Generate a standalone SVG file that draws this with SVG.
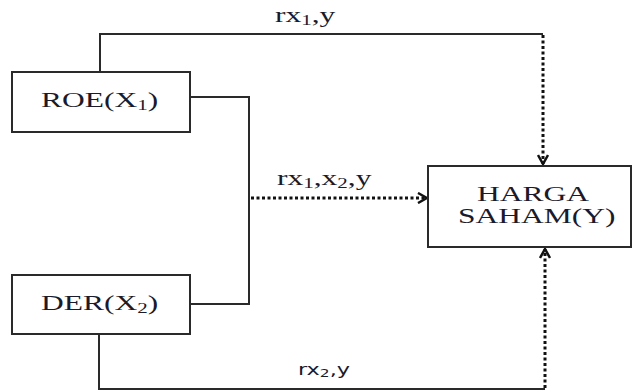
<svg xmlns="http://www.w3.org/2000/svg" width="633" height="392" viewBox="0 0 633 392">
<defs>
<style>
.box{fill:#fff;stroke:#2a2a2a;stroke-width:2}
.solid{fill:none;stroke:#2a2a2a;stroke-width:2}
.dot{fill:none;stroke:#111;stroke-width:3;stroke-dasharray:3 2.5}
.t{font-family:"Liberation Serif","Times New Roman",serif;fill:#1a1a2a}
.s{font-family:"DejaVu Sans","Liberation Sans",sans-serif;fill:#1a1a2a}
</style>
<marker id="chev" viewBox="0 0 12 12" refX="11" refY="6" markerWidth="12" markerHeight="12" markerUnits="userSpaceOnUse" orient="auto">
<path d="M2,1 L11,6 L2,11" fill="none" stroke="#111" stroke-width="2.5"/>
</marker>
</defs>
<g id="connectors">
<polyline class="solid" points="100,72 100,34 543,34"/>
<line class="dot" x1="543" y1="35" x2="543" y2="164" marker-end="url(#chev)"/>
<polyline class="solid" points="190,97 249,97 249,304 190,304"/>
<line class="dot" x1="251" y1="198" x2="427" y2="198" marker-end="url(#chev)"/>
<polyline class="solid" points="99,334 99,389 545,389"/>
<line class="dot" x1="545" y1="388" x2="545" y2="249" marker-end="url(#chev)"/>
<text class="t" transform="translate(275,22) scale(1.5,1)" font-size="21">rx<tspan font-size="14" dy="3">1</tspan><tspan dy="-3">,y</tspan></text>
<text class="t" transform="translate(277,185) scale(1.5,1)" font-size="21">rx<tspan font-size="14" dy="3">1</tspan><tspan dy="-3">,x</tspan><tspan font-size="14" dy="3">2</tspan><tspan dy="-3">,y</tspan></text>
<text class="s" transform="translate(298,375) scale(1.4,1)" font-size="16">rx<tspan font-size="11" dy="2">2</tspan><tspan dy="-2">,y</tspan></text>
</g>
<g id="roe">
<rect class="box" x="12" y="72" width="178" height="60"/>
<text class="t" transform="translate(41,107) scale(1.5,1)" font-size="21">ROE(X<tspan font-size="14" dy="3">1</tspan><tspan dy="-3">)</tspan></text>
</g>
<g id="der">
<rect class="box" x="12" y="275" width="178" height="59"/>
<text class="t" transform="translate(41,310) scale(1.5,1)" font-size="21">DER(X<tspan font-size="14" dy="3">2</tspan><tspan dy="-3">)</tspan></text>
</g>
<g id="harga">
<rect class="box" x="428" y="166" width="203" height="81"/>
<text class="t" transform="translate(477,201) scale(1.5,1)" font-size="21">HARGA</text>
<text class="t" transform="translate(458,223) scale(1.5,1)" font-size="21">SAHAM(Y)</text>
</g>
</svg>
